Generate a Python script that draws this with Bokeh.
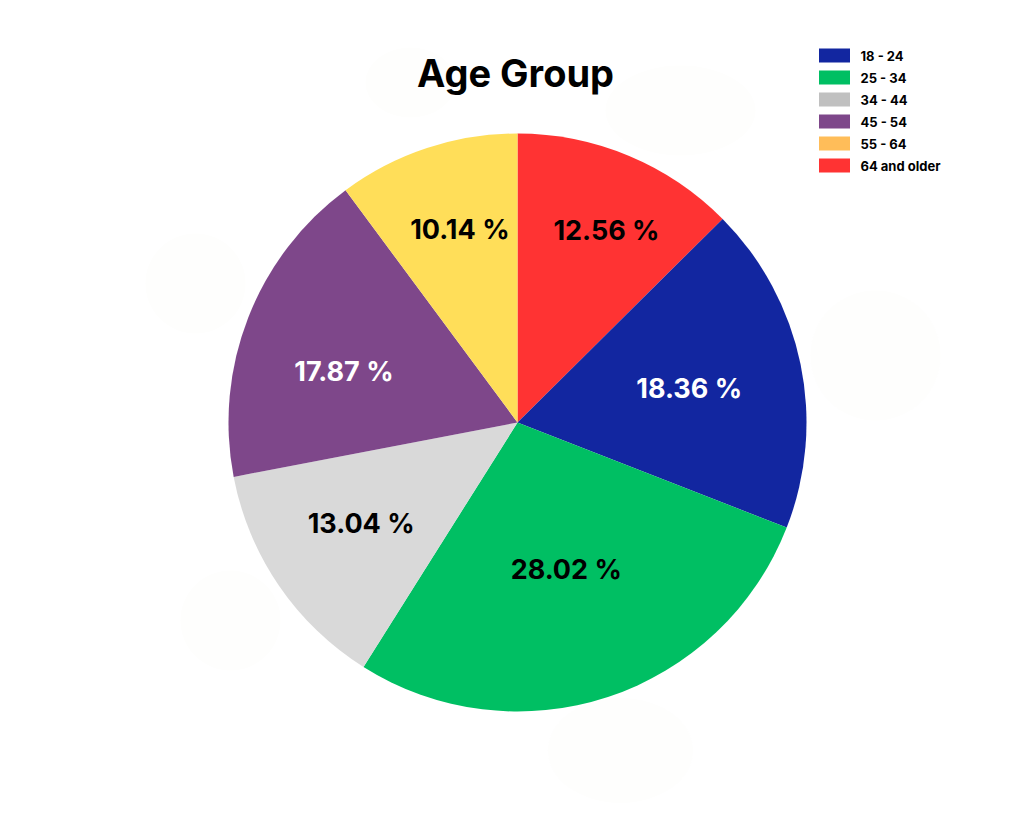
import numpy as np
from bokeh.plotting import figure
from bokeh.models import Range1d, ColumnDataSource
from bokeh.core.properties import value
from bokeh.embed import file_html
from bokeh.resources import INLINE

# ---- data ----
categories = ["64 and older", "18 - 24", "25 - 34", "34 - 44", "45 - 54", "55 - 64"]
shares = [12.56, 18.36, 28.02, 13.04, 17.87, 10.14]
slice_colors = ["#ff3333", "#1226a0", "#00bf63", "#d9d9d9", "#7e478a", "#ffde59"]
label_colors = ["#000000", "#ffffff", "#000000", "#000000", "#ffffff", "#000000"]

legend_labels = ["18 - 24", "25 - 34", "34 - 44", "45 - 54", "55 - 64", "64 and older"]
legend_colors = ["#1226a0", "#00bf63", "#c0c0c0", "#7e478a", "#ffbd59", "#ff3333"]

# ---- layout constants (pixels) ----
W, H = 1008, 803
def Y(sy):  # screen y -> data y
    return H - sy
def X(sx):
    return sx

cx, cy, R = X(517), Y(422), 289
label_r = [212, 175, 155, 186, 181, 201]
label_dtheta = [-2.2, -0.5, 0.1, -1.5, 4.8, -1.6]  # degrees, label placement tweak

p = figure(width=W, height=H, output_backend="svg", toolbar_location=None,
           x_range=Range1d(0, W), y_range=Range1d(0, H), min_border=0,
           background_fill_color="white", border_fill_color="white")
p.axis.visible = False
p.grid.visible = False
p.outline_line_color = None

# faint background blobs
blob_x = [X(195), X(620), X(875), X(410), X(680), X(230)]
blob_y = [Y(283), Y(750), Y(355), Y(82), Y(110), Y(620)]
blob_w = [100, 145, 130, 90, 150, 100]
blob_h = [100, 105, 130, 70, 90, 100]
p.ellipse(x=blob_x, y=blob_y, width=blob_w, height=blob_h,
          fill_color="#fefefd", line_color=None)

# pie
vals = np.array(shares)
ang = vals / vals.sum() * 2 * np.pi
start = np.pi / 2 - np.concatenate([[0], np.cumsum(ang)[:-1]])
end = start - ang
src = ColumnDataSource(dict(start=end, end=start, color=slice_colors))
p.wedge(x=cx, y=cy, radius=R, start_angle="start", end_angle="end",
        fill_color="color", line_color=None, source=src)

mid = (start + end) / 2 + np.radians(label_dtheta)
lx = cx + np.array(label_r) * np.cos(mid)
ly = cy + np.array(label_r) * np.sin(mid)
p.text(x=lx, y=ly, text=[f"{v:.2f} %" for v in shares], text_color=label_colors,
       text_font=value("Inter"), text_font_style="bold", text_font_size="27px",
       text_align="center", text_baseline="middle")

# title
p.text(x=[X(515)], y=[Y(72)], text=["Age Group"], text_font=value("Inter"),
       text_font_style="bold", text_font_size="38px", text_color="#000000",
       text_align="center", text_baseline="middle")

# legend
n = len(legend_labels)
ly0 = np.array([Y(55 + 22 * i) for i in range(n)])
p.rect(x=[X(834)] * n, y=ly0, width=31, height=14, fill_color=legend_colors, line_color=None)
p.text(x=[X(860)] * n, y=ly0, text=legend_labels, text_font=value("Inter"),
       text_font_style="bold", text_font_size="13px", text_color="#000000",
       text_align="left", text_baseline="middle")

open("out.html", "w").write(file_html(p, INLINE))
